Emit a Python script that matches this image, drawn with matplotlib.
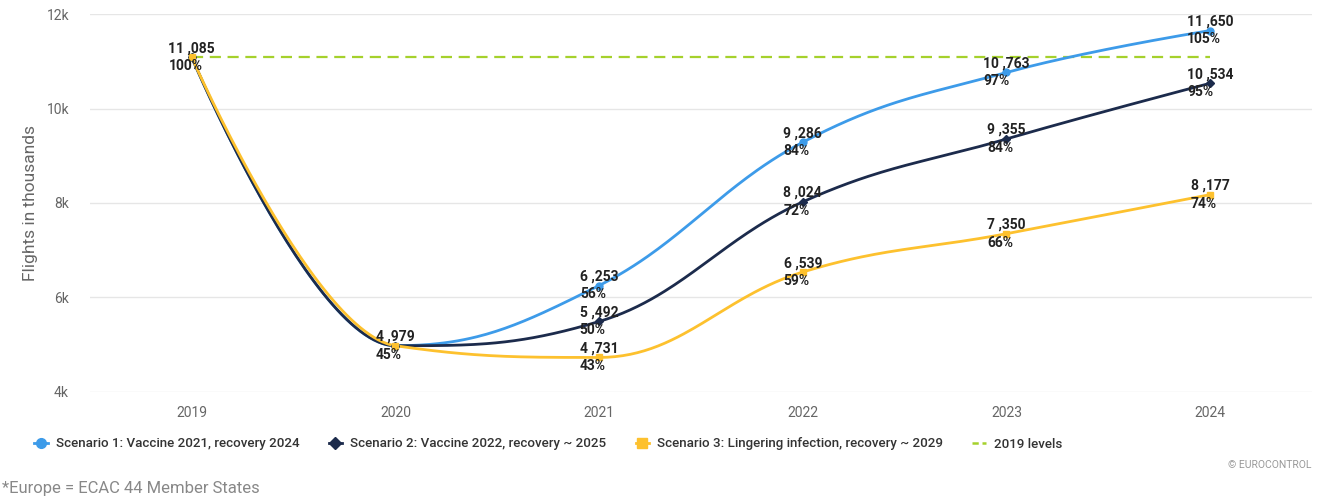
import numpy as np
import matplotlib
matplotlib.use("Agg")
import matplotlib.pyplot as plt

plt.rcParams['font.family'] = ['Roboto', 'DejaVu Sans']

years = [2019, 2020, 2021, 2022, 2023, 2024]
scenario1 = [11085, 4979, 6253, 9286, 10763, 11650]
scenario2 = [11085, 4979, 5492, 8024, 9355, 10534]
scenario3 = [11085, 4979, 4731, 6539, 7350, 8177]
pct1 = [100, 45, 56, 84, 97, 105]
pct2 = [100, 45, 50, 72, 84, 95]
pct3 = [100, 45, 43, 59, 66, 74]
level_2019 = 11085

names = ['Scenario 1: Vaccine 2021, recovery 2024',
         'Scenario 2: Vaccine 2022, recovery ~ 2025',
         'Scenario 3: Lingering infection, recovery ~ 2029']
colors = ['#3d9be9', '#1c2b4c', '#fdc12e']
markers = ['o', 'D', 's']


def spline(xs, ys, n=60):
    # Highcharts-style spline (smoothing 1.5)
    xs = np.asarray(xs, float)
    ys = np.asarray(ys, float)
    k = len(xs)
    left = [(xs[i], ys[i]) for i in range(k)]
    right = [(xs[i], ys[i]) for i in range(k)]
    s = 1.5
    d = s + 1
    for i in range(1, k - 1):
        lx = (s * xs[i] + xs[i - 1]) / d
        ly = (s * ys[i] + ys[i - 1]) / d
        rx = (s * xs[i] + xs[i + 1]) / d
        ry = (s * ys[i] + ys[i + 1]) / d
        corr = (ry - ly) * (rx - xs[i]) / (rx - lx) + ys[i] - ry
        ly += corr
        ry += corr
        if ly > ys[i - 1] and ly > ys[i]:
            ly = max(ys[i - 1], ys[i]); ry = 2 * ys[i] - ly
        elif ly < ys[i - 1] and ly < ys[i]:
            ly = min(ys[i - 1], ys[i]); ry = 2 * ys[i] - ly
        if ry > ys[i + 1] and ry > ys[i]:
            ry = max(ys[i + 1], ys[i]); ly = 2 * ys[i] - ry
        elif ry < ys[i + 1] and ry < ys[i]:
            ry = min(ys[i + 1], ys[i]); ly = 2 * ys[i] - ry
        left[i] = (lx, ly)
        right[i] = (rx, ry)
    t = np.linspace(0, 1, n)[:, None]
    pts = []
    for i in range(k - 1):
        p0 = np.array([xs[i], ys[i]])
        p1 = np.array(right[i])
        p2 = np.array(left[i + 1])
        p3 = np.array([xs[i + 1], ys[i + 1]])
        b = ((1 - t) ** 3) * p0 + 3 * ((1 - t) ** 2) * t * p1 + 3 * (1 - t) * t ** 2 * p2 + t ** 3 * p3
        pts.append(b if i == 0 else b[1:])
    pts = np.vstack(pts)
    return pts[:, 0], pts[:, 1]


fig = plt.figure(figsize=(13.22, 4.97), dpi=100)
ax = fig.add_axes([0.068, 0.2113, 0.9244, 0.7605])

series = [scenario1, scenario2, scenario3]
pcts = [pct1, pct2, pct3]
zs = [3.0, 3.1, 3.2]
handles = []
for idx in [0, 1, 2]:
    sx, sy = spline(years, series[idx])
    ax.plot(sx, sy, color=colors[idx], lw=2, zorder=zs[idx])
    ax.plot(years, series[idx], ls='none', marker=markers[idx], ms=5 if idx != 1 else 4,
            color=colors[idx], zorder=4)
    h, = ax.plot([], [], color=colors[idx], lw=2, marker=markers[idx], ms=7 if idx != 1 else 6)
    handles.append(h)

ax.plot(years, [level_2019] * len(years), color='#a5d12c', lw=1.6, dashes=(5, 3), zorder=2)
hg, = ax.plot([], [], color='#a5d12c', lw=1.8, dashes=(2.5, 1.5))
handles.append(hg)

# data labels
done = set()
for idx in [0, 1, 2]:
    for x, v, p in zip(years, series[idx], pcts[idx]):
        key = (x, v)
        if key in done:
            continue
        done.add(key)
        txt = f"{v // 1000} ,{v % 1000:03d}\n{p}%"
        ax.text(x, v, txt, ha='center', va='center', multialignment='left',
                fontsize=10, fontweight='bold', color='#222222', zorder=6,
                linespacing=1.35)

ax.set_xlim(2018.5, 2024.5)
ax.set_ylim(4000, 12000)
ax.set_xticks(years)
ax.set_xticklabels([str(y) for y in years])
ax.set_yticks([4000, 6000, 8000, 10000, 12000])
ax.set_yticklabels(['4k', '6k', '8k', '10k', '12k'])
ax.grid(axis='y', color='#e6e6e6', lw=1)
ax.set_axisbelow(True)
for s in ax.spines.values():
    s.set_visible(False)
ax.tick_params(axis='both', length=0, labelsize=10, colors='#666666')
ax.tick_params(axis='y', pad=15)
ax.tick_params(axis='x', pad=10)
ax.set_ylabel('Flights in thousands', fontsize=12.5, color='#666666', labelpad=6)

fig.legend(handles, names + ['2019 levels'], loc='center left',
           bbox_to_anchor=(0.017, 1 - 444 / 497), ncol=4, frameon=False,
           handlelength=1.0, columnspacing=2.2, handletextpad=0.6,
           prop={'weight': 'medium', 'size': 9.6}, labelcolor='#333333')

fig.text(1312 / 1322, 1 - 465 / 497, '\u00a9 EUROCONTROL', ha='right', va='center',
         fontsize=7.5, color='#999999')
fig.text(2 / 1322, 1 - 488 / 497, '*Europe = ECAC 44 Member States', ha='left', va='center',
         fontsize=12, color='#888888')

fig.savefig('out.png', dpi=100)
